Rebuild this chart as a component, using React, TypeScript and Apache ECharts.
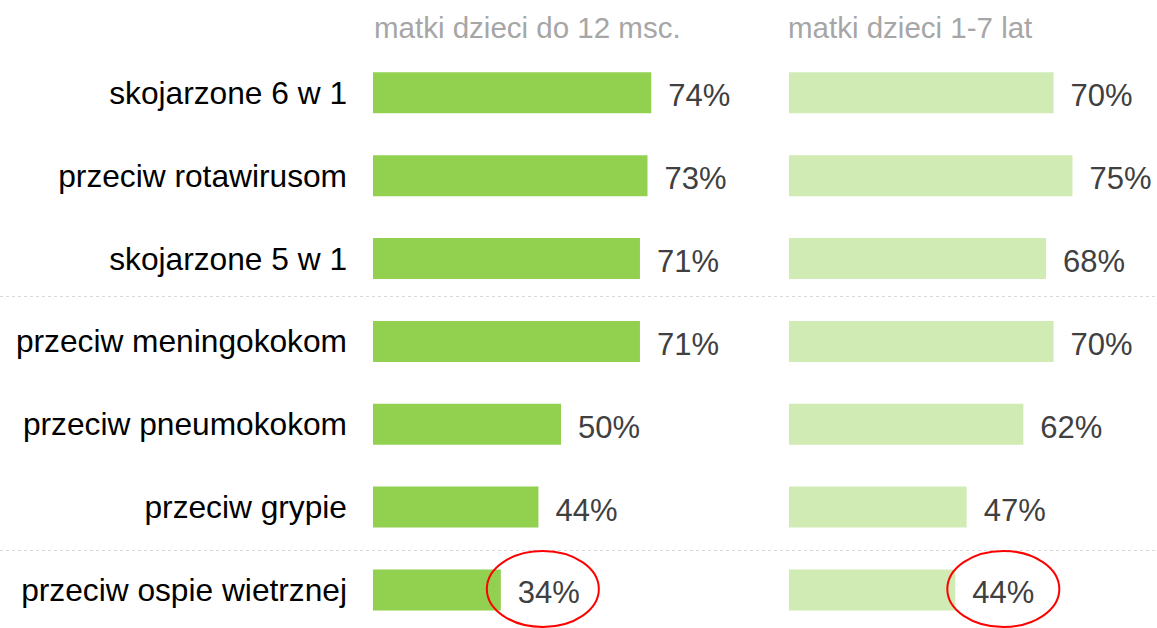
import React, { useEffect, useRef } from "react";
import * as echarts from "echarts";

const categories = [
  "skojarzone 6 w 1",
  "przeciw rotawirusom",
  "skojarzone 5 w 1",
  "przeciw meningokokom",
  "przeciw pneumokokom",
  "przeciw grypie",
  "przeciw ospie wietrznej",
];
const seriesNames = ["matki dzieci do 12 msc.", "matki dzieci 1-7 lat"];
const infants = [74, 73, 71, 71, 50, 44, 34];
const toddlers = [70, 75, 68, 70, 62, 47, 44];
const highlighted = ["przeciw ospie wietrznej"];
// dividers after these category indices (fraction of the gap toward the next row)
const dividerAfter = [
  [2, 0.45],
  [5, 0.52],
];

const FONT = "'Liberation Sans', Arial, sans-serif";

export default function App() {
  const ref = useRef<HTMLDivElement>(null);
  useEffect(() => {
    if (!ref.current) return;
    const chart = echarts.init(ref.current, undefined, { renderer: "svg" });
    const label = {
      show: true,
      position: "right" as const,
      distance: 17,
      offset: [0, 3],
      formatter: "{c}%",
      color: "#404040",
      fontSize: 31,
      fontFamily: FONT,
    };
    const option: any = {
      animation: false,
      backgroundColor: "#ffffff",
      grid: [
        { left: 373, top: 51.4, width: 376, height: 580 },
        { left: 789, top: 51.4, width: 378, height: 580 },
      ],
      xAxis: [
        { type: "value", gridIndex: 0, min: 0, max: 100, show: false },
        { type: "value", gridIndex: 1, min: 0, max: 100, show: false },
      ],
      yAxis: [
        {
          type: "category",
          gridIndex: 0,
          data: categories,
          inverse: true,
          axisLine: { show: false },
          axisTick: { show: false },
          splitLine: { show: false },
          axisLabel: {
            margin: 26,
            color: "#000000",
            fontSize: 31.7,
            fontFamily: FONT,
            padding: [0, 0, 14, 0],
          },
        },
        {
          type: "category",
          gridIndex: 1,
          data: categories,
          inverse: true,
          show: false,
        },
      ],
      series: [
        {
          type: "bar",
          name: seriesNames[0],
          xAxisIndex: 0,
          yAxisIndex: 0,
          data: infants,
          barWidth: "49.5%",
          itemStyle: { color: "#92d050" },
          label,
        },
        {
          type: "bar",
          name: seriesNames[1],
          xAxisIndex: 1,
          yAxisIndex: 1,
          data: toddlers,
          barWidth: "49.5%",
          itemStyle: { color: "#d1ebb5" },
          label,
        },
      ],
    };
    chart.setOption(option);

    const headers = seriesNames.map((name, i) => {
      const x = chart.convertToPixel({ xAxisIndex: i }, 0) as number;
      return {
        type: "text",
        x: x + (i === 0 ? 1 : -1),
        y: 27,
        style: {
          text: name,
          fill: "#a6a6a6",
          fontSize: 29.5,
          fontFamily: FONT,
          verticalAlign: "middle",
          align: "left",
        },
      };
    });

    const dividers = dividerAfter.map(([idx, frac]) => {
      const a = chart.convertToPixel({ yAxisIndex: 0 }, idx) as number;
      const b = chart.convertToPixel({ yAxisIndex: 0 }, idx + 1) as number;
      const y = Math.round(a + (b - a) * frac) + 0.5;
      return {
        type: "line",
        shape: { x1: 0, y1: y, x2: 1157, y2: y },
        style: { stroke: "#d9d9d9", lineWidth: 1, lineDash: [3, 3] },
      };
    });

    const ellipseShift = [42, 48];
    const ellipses: any[] = [];
    highlighted.forEach((cat) => {
      const idx = categories.indexOf(cat);
      [infants, toddlers].forEach((arr, i) => {
        const p = chart.convertToPixel(
          { xAxisIndex: i, yAxisIndex: i },
          [arr[idx], idx]
        ) as number[];
        ellipses.push({
          type: "ellipse",
          shape: { cx: p[0] + ellipseShift[i], cy: p[1] - 1, rx: 56, ry: 38 },
          style: { fill: "none", stroke: "#ff0000", lineWidth: 2 },
          z: 10,
        });
      });
    });

    chart.setOption({ graphic: [...headers, ...dividers, ...ellipses] });
    return () => chart.dispose();
  }, []);
  return (
    <div
      style={{
        position: "absolute",
        left: 0,
        top: 0,
        width: 1157,
        height: 628,
        overflow: "hidden",
      }}
    >
      <div ref={ref} style={{ width: 1200, height: 660 }} />
    </div>
  );
}
